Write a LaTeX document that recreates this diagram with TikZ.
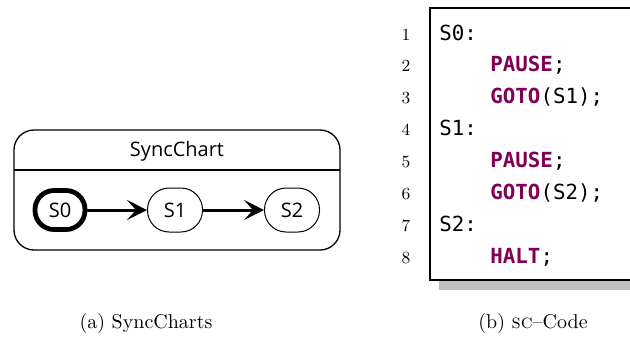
\documentclass[tikz,border=0pt]{standalone}
\usepackage{fontspec}
\newfontfamily\chartfont{Open Sans}
\newfontfamily\codefont{DejaVu Sans Mono}
\usetikzlibrary{arrows.meta}
\definecolor{kwpurple}{HTML}{7F0055}
\definecolor{shadowgray}{HTML}{BFBFBF}
\tikzset{
  chartlabel/.style={font=\chartfont\fontsize{10}{12}\selectfont},
  statebox/.style={draw, line width=0.5pt, rounded corners=10.8pt, minimum width=27.5pt,
    minimum height=22pt, inner sep=0pt, chartlabel},
  initstate/.style={statebox, line width=2.4pt, rounded corners=9.5pt, minimum width=25pt, minimum height=19.5pt},
  trans/.style={line width=1.5pt, -{Stealth[length=10pt,width=10pt,inset=4.5pt]}},
  codeline/.style={anchor=base west, inner sep=0pt, font=\codefont\fontsize{10.4}{12}\selectfont},
  lineno/.style={anchor=base, inner sep=0pt, font=\fontsize{8.5}{10}\selectfont},
  caption/.style={anchor=base, inner sep=0pt, font=\normalsize}
}
\newcommand{\kwd}[1]{\textcolor{kwpurple}{\bfseries #1}}
\begin{document}
\begin{tikzpicture}[x=0.5pt, y=-0.5pt]
  \useasboundingbox (0,0) rectangle (630,345);

  % SyncChart macro state
  \draw[line width=0.65pt, rounded corners=10pt] (14,130) rectangle (340,250);
  \draw[line width=0.65pt] (14,170) -- (340,170);
  \node[inner sep=0pt, chartlabel] (title) at (177,151) {SyncChart};

  \node[initstate] (s0) at (60,210) {S0};
  \node[statebox] (s1) at (175,210) {S1};
  \node[statebox] (s2) at (292,210) {S2};
  \draw[trans] (s0) -- (s1);
  \draw[trans] (s1) -- (s2);

  % SC code listing with shadow
  \fill[shadowgray] (439,280) rectangle (640,290);
  \fill[white] (430,8) rectangle (640,280);
  \draw[line width=0.6pt] (640,8) -- (430,8) -- (430,280) -- (640,280);

  \node[codeline] (c1) at (439, {40+31.86*0}) {S0:};
  \node[codeline] (c2) at (490, {40+31.86*1}) {\kwd{PAUSE};};
  \node[codeline] (c3) at (490, {40+31.86*2}) {\kwd{GOTO}(S1);};
  \node[codeline] (c4) at (439, {40+31.86*3}) {S1:};
  \node[codeline] (c5) at (490, {40+31.86*4}) {\kwd{PAUSE};};
  \node[codeline] (c6) at (490, {40+31.86*5}) {\kwd{GOTO}(S2);};
  \node[codeline] (c7) at (439, {40+31.86*6}) {S2:};
  \node[codeline] (c8) at (490, {40+31.86*7}) {\kwd{HALT};};

  \foreach \i in {1,...,8} {
    \node[lineno] (n\i) at (406, {40+31.86*(\i-1)}) {\i};
  }

  % Sub-captions
  \node[caption] (capa) at (146,328) {(a) SyncCharts};
  \node[caption] (capb) at (533,328) {(b) \textsc{sc}--Code};
\end{tikzpicture}
\end{document}
